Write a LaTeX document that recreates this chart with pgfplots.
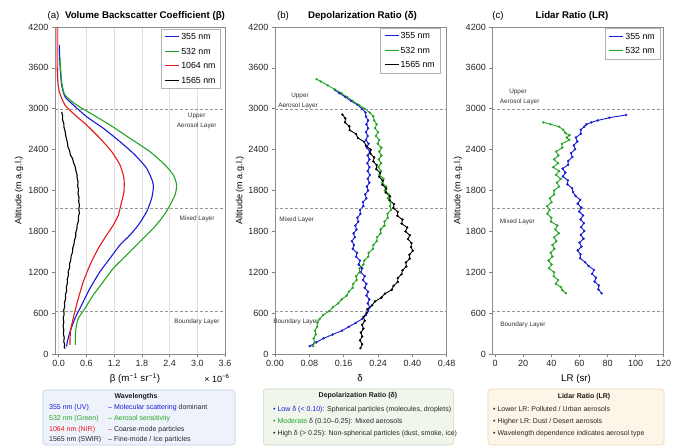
\documentclass[border=0pt]{standalone}
\usepackage{fontspec}
\setmainfont{Liberation Sans}
\usepackage{pgfplots}
\pgfplotsset{compat=1.18}
\definecolor{cblue}{RGB}{25,25,215}
\definecolor{cgreen}{RGB}{35,165,35}
\definecolor{cred}{RGB}{232,25,25}
\definecolor{dgray}{RGB}{150,150,150}
\definecolor{boxAf}{RGB}{238,243,251}
\definecolor{boxAd}{RGB}{190,205,225}
\definecolor{boxBf}{RGB}{240,246,236}
\definecolor{boxBd}{RGB}{200,216,190}
\definecolor{boxCf}{RGB}{253,245,231}
\definecolor{boxCd}{RGB}{236,216,182}
\newcommand{\fs}[1]{\fontsize{#1pt}{#1pt}\selectfont}
\newcommand{\lgA}[1]{\draw[draw=#1, line width=1.1pt] (0pt,0pt) -- (14pt,0pt);}
\newcommand{\lgB}[1]{\draw[draw=#1, line width=1.0pt] (0pt,0pt) -- (14pt,0pt);}
\pgfplotsset{
 base/.style={anchor=south west, scale only axis, height=327pt, ymin=0, ymax=4200,
  ytick={0,525,1050,1575,2100,2625,3150,3675,4200},
  yticklabels={0,600,1200,1800,1800,2400,3000,3600,4200},
  xtick pos=bottom, ytick pos=left, tick align=outside, major tick length=3pt,
  tick style={black!50, line width=0.5pt},
  axis line style={black!45, line width=0.6pt},
  tick label style={font=\fs{9}, text=black!85},
  /pgf/number format/assume math mode=true,
  legend cell align=left,
  legend style={anchor=north east, fill=white,
    font=\fs{8.8}, inner xsep=3.5pt, inner ysep=3pt, row sep=4.6pt,
    nodes={inner sep=1.5pt, text height=6.3pt, text depth=0.6pt}},
  every axis legend/.append style={draw=black!30},
 },
 layer/.style={draw=dgray, line width=0.6pt, forget plot, dash pattern=on 3pt off 2pt},
 smk/.style={line width=0.9pt, mark=*, mark size=1.05pt, mark options={solid, line width=0.3pt}},
}
\begin{document}
\begin{tikzpicture}
\path[use as bounding box, fill=white] (0pt,0pt) rectangle (683pt,447pt);

% ---------------- (a) ----------------
\begin{axis}[base, at={(55pt,93pt)}, width=170pt, xmin=-0.08, xmax=3.6,
  xtick={0,0.6,1.2,1.8,2.4,3.0,3.6}, xticklabels={0.0,0.6,1.2,1.8,2.4,3.0,3.6},
  xmajorgrids, grid style={black!12, line width=0.5pt},
  legend style={at={(1,1)}, xshift=-4.3pt, yshift=-1.7pt}]
\addplot[cblue, draw=cblue, line width=1.1pt, smooth, tension=0.4,
  legend image code/.code={\lgA{cblue}}] coordinates {
(0.014,3969) (0.028,3712) (0.064,3455) (0.136,3305) (0.317,3198) (0.605,3048)
(0.966,2899) (1.327,2727) (1.652,2556) (1.904,2385) (2.034,2213) (2.048,2128)
(2.012,1999) (1.904,1828) (1.724,1657) (1.543,1528) (1.327,1400) (1.110,1229)
(0.894,1057) (0.677,843) (0.497,629) (0.353,458) (0.245,287) (0.187,158) (0.172,94)};
\addlegendentry{355 nm}
\addplot[cgreen, draw=cgreen, line width=1.1pt, smooth, tension=0.4,
  legend image code/.code={\lgA{cgreen}}] coordinates {
(0.028,3798) (0.064,3498) (0.136,3327) (0.389,3198) (0.750,3070) (1.110,2941)
(1.543,2770) (1.976,2599) (2.301,2428) (2.481,2299) (2.553,2171) (2.517,2042)
(2.373,1871) (2.229,1743) (2.048,1614) (1.832,1486) (1.615,1357) (1.399,1229)
(1.182,1100) (0.966,929) (0.750,758) (0.569,587) (0.425,458) (0.374,330) (0.360,201) (0.360,116)};
\addlegendentry{532 nm}
\addplot[cred, draw=cred, line width=1.1pt, smooth, tension=0.4,
  legend image code/.code={\lgA{cred}}] coordinates {
(-0.035,4200) (-0.035,3798) (-0.025,3541) (0.014,3369) (0.136,3198) (0.353,3070)
(0.605,2941) (0.894,2770) (1.147,2599) (1.327,2428) (1.413,2256) (1.413,2085)
(1.363,1957) (1.291,1785) (1.182,1657) (1.038,1528) (0.858,1357) (0.677,1143)
(0.533,929) (0.425,715) (0.331,501) (0.266,330) (0.245,201) (0.245,116)};
\addlegendentry{1064 nm}
\addplot[black, draw=black, line width=1.1pt,
  legend image code/.code={\lgA{black}}] coordinates {
(0.064,3110) (0.085,3060) (0.082,3010) (0.110,2960) (0.115,2910) (0.140,2860)
(0.150,2810) (0.170,2760) (0.190,2710) (0.200,2660) (0.238,2610) (0.250,2560)
(0.300,2510) (0.320,2460) (0.355,2410) (0.370,2360) (0.395,2310) (0.398,2260)
(0.420,2210) (0.410,2160) (0.428,2110) (0.418,2060) (0.440,2010) (0.432,1960)
(0.450,1910) (0.435,1860) (0.448,1810) (0.425,1760) (0.428,1710) (0.400,1660)
(0.395,1610) (0.370,1560) (0.368,1510) (0.340,1460) (0.330,1410) (0.305,1360)
(0.300,1310) (0.270,1260) (0.262,1210) (0.236,1160) (0.238,1110) (0.205,1060)
(0.210,1010) (0.185,960) (0.190,910) (0.165,860) (0.172,810) (0.145,760)
(0.150,710) (0.125,660) (0.130,610) (0.108,560) (0.118,510) (0.098,460)
(0.110,410) (0.095,360) (0.110,310) (0.102,260) (0.120,210) (0.110,160)
(0.130,120) (0.118,90) (0.140,70)};
\addlegendentry{1565 nm}
\addplot[layer] coordinates {(-0.08,3140) (3.6,3140)};
\addplot[layer] coordinates {(-0.08,1870) (3.6,1870)};
\addplot[layer] coordinates {(-0.08,550) (3.6,550)};
\end{axis}

% ---------------- (b) ----------------
\begin{axis}[base, at={(275pt,93pt)}, width=171.7pt, xmin=0, xmax=0.40,
  xtick={0,0.08,0.16,0.24,0.32,0.40}, xticklabels={0.00,0.08,0.16,0.24,0.40,0.48},
  legend style={at={(1,1)}, xshift=-6.7pt, yshift=-0.7pt}]
\addplot[cblue, draw=cblue, smk, legend image code/.code={\lgB{cblue}}] coordinates {
(0.081,100) (0.096,150) (0.113,200) (0.134,250) (0.156,300) (0.172,350) (0.188,400)
(0.203,450) (0.212,500) (0.217,550) (0.221,600) (0.216,650) (0.220,700) (0.213,750)
(0.217,800) (0.209,850) (0.213,900) (0.205,950) (0.209,1000) (0.200,1050) (0.203,1100)
(0.195,1150) (0.198,1200) (0.189,1250) (0.191,1300) (0.181,1350) (0.184,1400)
(0.179,1450) (0.186,1500) (0.183,1550) (0.190,1600) (0.187,1650) (0.194,1700)
(0.192,1750) (0.199,1800) (0.198,1850) (0.206,1900) (0.205,1950) (0.213,2000)
(0.210,2050) (0.217,2100) (0.214,2150) (0.220,2200) (0.216,2250) (0.221,2300)
(0.216,2350) (0.220,2400) (0.215,2450) (0.220,2500) (0.216,2550) (0.221,2600)
(0.214,2650) (0.218,2700) (0.212,2750) (0.216,2800) (0.212,2850) (0.217,2900)
(0.213,2950) (0.217,3000) (0.212,3050) (0.211,3100) (0.203,3150) (0.192,3200)
(0.177,3250) (0.164,3300) (0.150,3350) (0.140,3390)};
\addlegendentry{355 nm}
\addplot[cgreen, draw=cgreen, smk, legend image code/.code={\lgB{cgreen}}] coordinates {
(0.089,100) (0.092,150) (0.090,200) (0.095,250) (0.093,300) (0.098,350) (0.099,400)
(0.104,450) (0.112,500) (0.126,550) (0.135,600) (0.147,650) (0.155,700) (0.167,750)
(0.172,800) (0.181,850) (0.182,900) (0.190,950) (0.189,1000) (0.197,1050) (0.197,1100)
(0.206,1150) (0.208,1200) (0.217,1250) (0.218,1300) (0.228,1350) (0.229,1400)
(0.237,1450) (0.238,1500) (0.246,1550) (0.246,1600) (0.255,1650) (0.255,1700)
(0.263,1750) (0.262,1800) (0.270,1850) (0.268,1900) (0.270,1950) (0.263,2000)
(0.265,2050) (0.256,2100) (0.259,2150) (0.250,2200) (0.253,2250) (0.243,2300)
(0.247,2350) (0.241,2400) (0.247,2450) (0.242,2500) (0.248,2550) (0.243,2600)
(0.248,2650) (0.239,2700) (0.243,2750) (0.235,2800) (0.240,2850) (0.233,2900)
(0.237,2950) (0.231,3000) (0.229,3050) (0.221,3100) (0.209,3150) (0.195,3200)
(0.181,3250) (0.168,3300) (0.155,3350) (0.139,3400) (0.123,3450) (0.107,3500) (0.097,3530)};
\addlegendentry{532 nm}
\addplot[black, draw=black, smk, legend image code/.code={\lgB{black}}] coordinates {
(0.199,75) (0.203,125) (0.198,175) (0.203,225) (0.200,275) (0.206,325) (0.203,375)
(0.209,425) (0.206,475) (0.213,525) (0.215,575) (0.226,625) (0.233,675) (0.248,725)
(0.256,775) (0.272,825) (0.276,875) (0.286,925) (0.286,975) (0.295,1025) (0.297,1075)
(0.306,1125) (0.305,1175) (0.314,1225) (0.313,1275) (0.321,1325) (0.317,1375)
(0.318,1425) (0.310,1475) (0.314,1525) (0.304,1575) (0.308,1625) (0.295,1675)
(0.297,1725) (0.285,1775) (0.286,1825) (0.276,1875) (0.277,1925) (0.267,1975)
(0.268,2025) (0.258,2075) (0.259,2125) (0.250,2175) (0.251,2225) (0.243,2275)
(0.245,2325) (0.236,2375) (0.237,2425) (0.229,2475) (0.231,2525) (0.222,2575)
(0.223,2625) (0.212,2675) (0.208,2725) (0.193,2775) (0.189,2825) (0.174,2875)
(0.173,2925) (0.163,2975) (0.164,3025) (0.157,3075)};
\addlegendentry{1565 nm}
\addplot[layer] coordinates {(0,3140) (0.40,3140)};
\addplot[layer] coordinates {(0,1870) (0.40,1870)};
\addplot[layer] coordinates {(0,550) (0.40,550)};
\end{axis}

% ---------------- (c) ----------------
\begin{axis}[base, at={(492.3pt,93pt)}, width=171.4pt, xmin=-2, xmax=120,
  xtick={0,20,40,60,80,100,120},
  legend style={at={(1,1)}, xshift=-3.7pt, yshift=-1.3pt}]
\addplot[cblue, draw=cblue, smk, legend image code/.code={\lgB{cblue}}] coordinates {
(75.8,780) (73.5,830) (73.9,880) (70.8,930) (71.8,980) (69.0,1030) (70.4,1080)
(66.5,1130) (64.0,1180) (60.5,1230) (60.8,1280) (58.8,1330) (61.5,1380) (60.0,1430)
(63.0,1480) (61.0,1530) (63.5,1580) (61.2,1630) (63.2,1680) (60.8,1730) (62.6,1780)
(59.8,1830) (61.4,1880) (58.8,1930) (60.6,1980) (57.2,2030) (55.5,2080) (54.8,2130)
(51.5,2180) (51.8,2230) (48.2,2280) (50.0,2330) (48.0,2380) (52.0,2430) (52.0,2480)
(55.0,2530) (54.0,2580) (57.0,2630) (56.0,2680) (58.5,2730) (57.5,2780) (61.0,2830)
(61.0,2880) (63.5,2920) (65.0,2950) (68.5,2975) (73.0,3000) (81.3,3035) (93.3,3070)};
\addlegendentry{355 nm}
\addplot[cgreen, draw=cgreen, smk, legend image code/.code={\lgB{cgreen}}] coordinates {
(50.3,780) (47.9,820) (46.8,860) (43.2,900) (44.8,950) (41.8,1000) (42.0,1050)
(38.3,1100) (40.2,1150) (38.0,1200) (40.8,1250) (39.5,1300) (42.2,1350) (40.8,1400)
(43.6,1450) (42.0,1500) (45.4,1550) (42.8,1600) (44.3,1650) (39.8,1700) (40.0,1750)
(37.2,1800) (38.8,1850) (37.0,1900) (40.2,1950) (39.0,2000) (42.0,2050) (42.0,2100)
(45.5,2150) (44.0,2200) (46.7,2250) (43.4,2300) (45.5,2350) (41.4,2400) (44.8,2450)
(42.0,2500) (45.0,2550) (43.5,2600) (47.8,2650) (47.5,2700) (52.8,2750) (51.0,2780)
(53.0,2810) (50.0,2840) (48.5,2880) (45.5,2920) (39.5,2950) (34.3,2975)};
\addlegendentry{532 nm}
\addplot[layer] coordinates {(-2,3140) (120,3140)};
\addplot[layer] coordinates {(-2,1870) (120,1870)};
\addplot[layer] coordinates {(-2,550) (120,550)};
\end{axis}

% ---------------- titles and labels ----------------
\begin{scope}[x=1pt,y=1pt]
\node[font=\fs{9.7}] at (53.5,431) {(a)};
\node[font=\fs{9.7}\bfseries] at (145,431) {Volume Backscatter Coefficient (β)};
\node[font=\fs{9.7}] at (283,431) {(b)};
\node[font=\fs{9.7}\bfseries] at (362.5,431) {Depolarization Ratio (δ)};
\node[font=\fs{9.7}] at (498,431) {(c)};
\node[font=\fs{9.7}\bfseries] at (572,431) {Lidar Ratio (LR)};

\node[font=\fs{9}, rotate=90] at (19,256.5) {Altitude (m a.g.l.)};
\node[font=\fs{9}, rotate=90] at (240,256.5) {Altitude (m a.g.l.)};
\node[font=\fs{9}, rotate=90] at (458,256.5) {Altitude (m a.g.l.)};

\node[font=\fs{9.7}] at (135,68.5) {β (m\textsuperscript{−1} sr\textsuperscript{−1})};
\node[font=\fs{9}] at (217,68.5) {× 10\textsuperscript{−6}};
\node[font=\fs{9.7}] at (360,68.5) {δ};
\node[font=\fs{9.7}] at (576,68.5) {LR (sr)};

% layer labels
\tikzset{lay/.style={font=\fs{6.4}, anchor=base, text=black!80, inner sep=0pt}}
\node[lay] at (196.7,329.7) {Upper};
\node[lay] at (196.7,319.7) {Aerosol Layer};
\node[lay] at (197,226.4) {Mixed Layer};
\node[lay] at (197,123) {Boundary Layer};
\node[lay] at (300,349) {Upper};
\node[lay] at (298,339.7) {Aerosol Layer};
\node[lay] at (296.7,225.4) {Mixed Layer};
\node[lay] at (296,123.7) {Boundary Layer};
\node[lay] at (518,353.7) {Upper};
\node[lay] at (519.7,343.7) {Aerosol Layer};
\node[lay] at (517.3,223) {Mixed Layer};
\node[lay] at (523,120.7) {Boundary Layer};

% info boxes
\tikzset{bx/.style={font=\fs{7}, anchor=base west, inner sep=0pt, text=black!85},
         bt/.style={font=\fs{7}\bfseries, anchor=base, inner sep=0pt, text=black!90}}
\draw[boxAd, fill=boxAf, line width=0.6pt, rounded corners=3pt] (43,2) rectangle (235,57);
\node[bt] at (136,48.1) {Wavelengths};
\node[bx, text=cblue] at (49,37.9) {355 nm (UV)};
\node[bx] at (108,37.9) {\textcolor{cblue}{– Molecular scattering} dominant};
\node[bx, text=cgreen] at (49,26.9) {532 nm (Green)};
\node[bx, text=cgreen] at (108,26.9) {– Aerosol sensitivity};
\node[bx, text=cred] at (49,15.9) {1064 nm (NIR)};
\node[bx] at (108,15.9) {\textcolor{cred}{–} Coarse-mode particles};
\node[bx] at (49,5.6) {1565 nm (SWIR)};
\node[bx] at (108,5.6) {– Fine-mode / Ice particles};

\draw[boxBd, fill=boxBf, line width=0.6pt, rounded corners=3pt] (263.3,2) rectangle (453.3,58);
\node[bt] at (358,49.6) {Depolarization Ratio (δ)};
\node[bx] at (273,35.6) {\textcolor{cblue}{• Low δ (< 0.10):} Spherical particles (molecules, droplets)};
\node[bx] at (273,23.6) {\textcolor{cgreen}{• Moderate} δ (0.10–0.25): Mixed aerosols};
\node[bx] at (273,11.6) {• High δ (> 0.25): Non-spherical particles (dust, smoke, ice)};

\draw[boxCd, fill=boxCf, line width=0.6pt, rounded corners=3pt] (488,2) rectangle (664,58);
\node[bt] at (584,48.6) {Lidar Ratio (LR)};
\node[bx] at (493,35.6) {• Lower LR: Polluted / Urban aerosols};
\node[bx] at (493,23.6) {• Higher LR: Dust / Desert aerosols};
\node[bx] at (493,11.6) {• Wavelength dependence indicates aerosol type};
\end{scope}
\end{tikzpicture}
\end{document}
